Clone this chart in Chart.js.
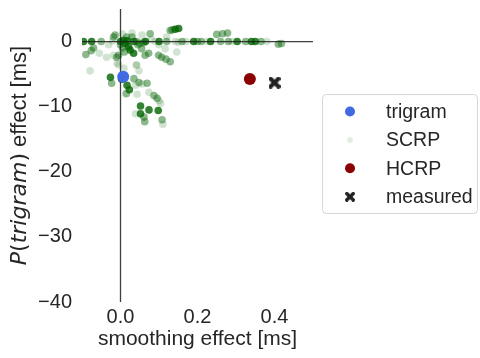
<!DOCTYPE html>
<html>
<head>
<meta charset="utf-8">
<script src="https://cdn.jsdelivr.net/npm/chart.js@4/dist/chart.umd.min.js"></script>
<style>
  body { margin: 0; background: #fff; }
  canvas { display: block; }
</style>
</head>
<body>
<canvas id="chart" width="480" height="358"></canvas>
<script>
// SCRP model points, split by how strongly they show up in the picture
var scrpStrongX = [-0.096, -0.075, 0, 0.012, 0.021, 0.025, 0.034, 0.008, 0.035, 0.19, 0.234, 0.303, 0.34, 0.35,
    -0.026, 0.003, 0.017, 0.023, 0.052, 0.052, 0.074, 0.098, 0.151, 0.142, 0.10, 0.065, 0.018];
var scrpStrongY = [0, 0, 0, -0.3, -0.8, -1.3, -1.8, 0.2, 0, 0, 0, 0, 0, 0,
    -5.5, -5.8, -6.7, -7.4, -9.9, -11.1, -10.5, -10.6, 2.0, 1.9, 0, 0, 0.1];

var scrpMidX = [-0.07, -0.076, -0.09, -0.018, -0.014, -0.005, -0.01, 0.03, 0.016, 0.042, 0.055, 0.064, 0.073,
    0.077, 0.099, 0.107, 0.118, 0.129, 0.129, 0.134, -0.023, 0.015, 0.035, 0.048, 0.069, 0.087, 0.095, 0.061,
    0.063, 0.108, 0.25, 0.265, 0.278, 0.41, 0.418, 0.12, 0.16, 0.21, 0.26, 0.28, 0.325, 0.365, 0, 0.005, 0.01,
    0.045, 0.05, 0.06, -0.05, 0.2];
var scrpMidY = [-1.0, -1.4, -2.0, 0.7, 1.0, -2.1, -2.4, 0.7, 0.7, 0, -1.1, -2.1, -1.8,
    1.2, -2.1, -2.4, -2.7, -3.1, 1.7, 1.8, -6.4, -8.0, -5.7, -6.3, -6.4, -8.3, -8.7, -11.6,
    -12.3, -12.0, 1.1, 1.2, 1.3, -0.4, -0.3, 0, 0, 0, 0, 0, 0, 0, -0.5, -1.0, -1.6,
    -0.5, -0.3, -0.2, 0, 0];

var scrpFaintX = [-0.055, -0.036, -0.079, -0.031, 0.042, 0.06, 0.09, 0.12, 0.142, 0.116, 0.146, -0.018, -0.005,
    -0.009, 0.009, 0.039, 0.043, 0.056, 0.074, 0.1, 0.104, 0.11, 0.039, 0.041, 0.048, 0.056, 0.03, 0.08, 0.17,
    0.225, 0.29, 0.38, -0.02, 0.005, 0.1, 0.15];
var scrpFaintY = [-1.8, -2.4, -4.5, -0.5, -3.6, 0, 0, 0.7, 0, -1.1, -1.6, -2.1, -3.6,
    -3.3, -4.1, -6.7, -8.1, -6.5, -7.8, -9.1, -9.5, -12.7, -11.1, -3.6, -4.5, 1.0, 1.3, 0.3, 0,
    0, 0, 0, 0.1, 1.2, -0.5, -0.1];

var trigramPoint = [0.007, -5.4];
var hcrpPoint = [0.336, -5.75];
var measuredPoint = [0.40, -6.3];

var seriesNames = ["trigram", "SCRP", "HCRP", "measured"];
var xTicks = [0.0, 0.2, 0.4];
var yTicks = [0, -10, -20, -30, -40];

var textColor = "#262626";
var sans = "'Liberation Sans', Arial, sans-serif";

// filled "X" marker like matplotlib's
function makeX(size, color) {
    var c = document.createElement("canvas");
    c.width = size; c.height = size;
    var g = c.getContext("2d");
    var h = size / 2, a = size * 0.17, r = size / 2;
    g.translate(h, h);
    g.rotate(Math.PI / 4);
    g.fillStyle = color;
    g.fillRect(-r * 1.25, -a, r * 2.5, a * 2);
    g.fillRect(-a, -r * 1.25, a * 2, r * 2.5);
    return c;
}
var xMarker = makeX(12, "#222222");
var xMarkerSmall = makeX(10, "#222222");

function toPoints(xs, ys) {
    var out = [];
    for (var i = 0; i < xs.length; i++) out.push({ x: xs[i], y: ys[i] });
    return out;
}

function scrpSet(xs, ys, alpha) {
    return {
        label: seriesNames[1],
        data: toPoints(xs, ys),
        backgroundColor: "rgba(0,100,0," + alpha + ")",
        borderWidth: 0,
        pointRadius: 3.8
    };
}

var legendStyle = [
    { color: "#4169e1", r: 5 },
    { color: "rgba(0,100,0,0.12)", r: 2.8 },
    { color: "#8b0000", r: 5 },
    { image: xMarkerSmall }
];

var refLines = {
    id: "refLines",
    afterDatasetDraw: function (chart, args) {
        // after the last green layer, before the trigram point
        if (args.index !== 1) return;
        var ctx = chart.ctx, a = chart.chartArea;
        var x0 = chart.scales.x.getPixelForValue(0);
        var y0 = chart.scales.y.getPixelForValue(0);
        ctx.save();
        ctx.strokeStyle = "rgba(30,30,30,0.85)";
        ctx.lineWidth = 1.3;
        ctx.beginPath();
        ctx.moveTo(a.left, y0); ctx.lineTo(a.right, y0);
        ctx.moveTo(x0, a.top); ctx.lineTo(x0, a.bottom);
        ctx.stroke();
        ctx.restore();
    }
};

var labelsAndLegend = {
    id: "labelsAndLegend",
    afterDraw: function (chart) {
        var ctx = chart.ctx, a = chart.chartArea;
        ctx.save();
        ctx.fillStyle = textColor;
        ctx.textBaseline = "alphabetic";

        // x axis title
        ctx.font = "21px " + sans;
        ctx.textAlign = "center";
        ctx.fillText("smoothing effect [ms]", (a.left + a.right) / 2, 345);

        // y axis title, P(trigram) part in math italics
        var parts = [
            ["P", "oblique 22px 'DejaVu Sans'"],
            ["(", "22px 'DejaVu Sans'"],
            ["trigram", "oblique 22px 'DejaVu Sans'"],
            [")", "22px 'DejaVu Sans'"],
            [" effect [ms]", "22px " + sans]
        ];
        var total = 0;
        parts.forEach(function (p) { ctx.font = p[1]; total += ctx.measureText(p[0]).width; });
        ctx.translate(26, (a.top + a.bottom) / 2);
        ctx.rotate(-Math.PI / 2);
        ctx.textAlign = "left";
        var pos = -total / 2;
        parts.forEach(function (p) {
            ctx.font = p[1];
            ctx.fillText(p[0], pos, 0);
            pos += ctx.measureText(p[0]).width;
        });
        ctx.restore();

        // legend box
        ctx.save();
        ctx.fillStyle = "rgba(255,255,255,0.8)";
        ctx.strokeStyle = "#d6d6d6";
        ctx.lineWidth = 1;
        ctx.beginPath();
        ctx.roundRect(322.5, 94.5, 155, 119, 4);
        ctx.fill();
        ctx.stroke();
        ctx.font = "19.5px " + sans;
        ctx.textBaseline = "middle";
        ctx.textAlign = "left";
        for (var i = 0; i < seriesNames.length; i++) {
            var cy = 111.5 + i * 28.4;
            var st = legendStyle[i];
            if (st.image) {
                ctx.drawImage(st.image, 350 - st.image.width / 2, cy - st.image.height / 2);
            } else {
                ctx.fillStyle = st.color;
                ctx.beginPath();
                ctx.arc(350, cy, st.r, 0, Math.PI * 2);
                ctx.fill();
            }
            ctx.fillStyle = textColor;
            ctx.fillText(seriesNames[i], 386, cy + 1);
        }
        ctx.restore();
    }
};

new Chart(document.getElementById("chart"), {
    type: "scatter",
    data: {
        datasets: [{
            label: seriesNames[0],
            data: [{ x: trigramPoint[0], y: trigramPoint[1] }],
            backgroundColor: "#4169e1",
            borderWidth: 0,
            pointRadius: 6
        },
        scrpSet(scrpStrongX, scrpStrongY, 0.8),
        scrpSet(scrpMidX, scrpMidY, 0.45),
        scrpSet(scrpFaintX, scrpFaintY, 0.18),
        {
            label: seriesNames[2],
            data: [{ x: hcrpPoint[0], y: hcrpPoint[1] }],
            backgroundColor: "#8b0000",
            borderWidth: 0,
            pointRadius: 6
        }, {
            label: seriesNames[3],
            data: [{ x: measuredPoint[0], y: measuredPoint[1] }],
            pointStyle: xMarker,
            pointRadius: 6
        }]
    },
    options: {
        responsive: false,
        animation: false,
        layout: { padding: { top: 9, right: 167, bottom: 0, left: 0 } },
        plugins: {
            legend: { display: false },
            tooltip: { enabled: false }
        },
        scales: {
            x: {
                type: "linear",
                min: -0.1,
                max: 0.5,
                grid: { display: false, drawTicks: false },
                border: { display: false },
                afterBuildTicks: function (scale) {
                    scale.ticks = xTicks.map(function (v) { return { value: v }; });
                },
                afterFit: function (scale) {
                    scale.height = 56;
                    scale.paddingLeft = 0; scale.paddingRight = 0;
                },
                ticks: {
                    padding: 3,
                    color: textColor,
                    font: { family: sans, size: 20 },
                    maxRotation: 0,
                    callback: function (v) { return Number(v).toFixed(1); }
                }
            },
            y: {
                type: "linear",
                min: -40,
                max: 5,
                grid: { display: false, drawTicks: false },
                border: { display: false },
                afterBuildTicks: function (scale) {
                    scale.ticks = yTicks.map(function (v) { return { value: v }; });
                },
                afterFit: function (scale) {
                    scale.width = 82;
                    scale.paddingTop = 0; scale.paddingBottom = 0;
                },
                ticks: {
                    padding: 10,
                    color: textColor,
                    font: { family: sans, size: 20 },
                    callback: function (v) { return String(v).replace("-", "\u2212"); }
                }
            }
        }
    },
    plugins: [refLines, labelsAndLegend]
});
</script>
</body>
</html>
